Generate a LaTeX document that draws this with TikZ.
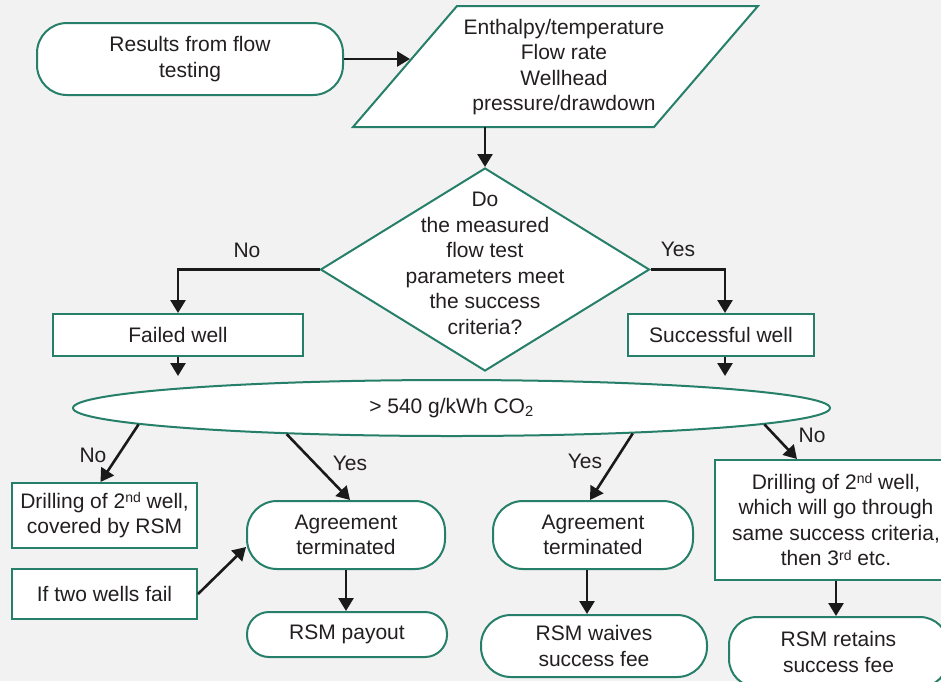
\documentclass[tikz,border=0pt]{standalone}
\usepackage{fontspec}
\setmainfont{Liberation Sans}
\usetikzlibrary{shapes.geometric,arrows.meta,calc}
\definecolor{bg}{HTML}{F2F2F2}
\definecolor{grn}{RGB}{38,127,104}
\definecolor{ink}{HTML}{231F20}
\definecolor{arrk}{HTML}{1A1A1A}
\newcommand\mysup[1]{\raisebox{5.5pt}{\fontsize{14}{14}\selectfont #1}}
\begin{document}
\begin{tikzpicture}[x=1pt,y=-1pt,
  every node/.style={font=\fontsize{21}{25.5}\selectfont, text=ink, inner sep=0pt, align=center},
  box/.style={draw=grn, line width=2pt, fill=white, rectangle},
  term/.style={box, rounded corners=30pt},
  arr/.style={draw=arrk, line width=2.6pt, -{Triangle[length=13pt,width=15pt]}}]
\fill[bg, use as bounding box] (0,0) rectangle (941,681);
\clip (0,0) rectangle (941,681);

% start
\node[term, minimum width=306pt, minimum height=72pt] (res) at (190,59) {Results from flow\\testing};

% parallelogram
\coordinate (ptl) at (457,6);
\coordinate (ptr) at (758,6);
\coordinate (pbr) at (654,127);
\coordinate (pbl) at (353,127);
\coordinate (pin) at (410,59);
\draw[draw=grn, line width=2pt, fill=white] (ptl) -- (ptr) -- (pbr) -- (pbl) -- cycle;
\node (par) at (564,67) {Enthalpy/temperature\\Flow rate\\Wellhead\\pressure/drawdown};
\draw[arr] (res.east) -- (pin);

% diamond
\node[diamond, draw=grn, line width=2pt, fill=white, minimum width=329pt, minimum height=203pt] (dia) at (485,269.5) {};
\node (diat) at (485,263.5) {Do\\the measured\\flow test\\parameters meet\\the success\\criteria?};
\draw[arr] (dia.north |- pbl) -- (dia.north);

% failed / successful
\node[box, minimum width=250pt, minimum height=42pt] (fail) at (178,335) {Failed well};
\node[box, minimum width=186pt, minimum height=42pt] (succ) at (721,335) {Successful well};
\coordinate (sn) at ([xshift=4pt]succ.north);
\coordinate (ss) at ([xshift=4pt]succ.south);
\draw[arr] (dia.west) -| (fail.north);
\draw[arr] (dia.east) -| (sn);
\node (no1) at (247,250) {No};
\node (yes1) at (678,249) {Yes};

% ellipse
\node[ellipse, draw=grn, line width=2pt, fill=white, minimum width=757pt, minimum height=56pt] (ell) at (451.5,408) {> 540 g/kWh CO\textsubscript{2}};
\draw[arr, shorten >=3pt] (fail.south) -- (fail.south |- ell.north);
\draw[arr, shorten >=3pt] (ss) -- (ss |- ell.north);

% lower nodes
\node[box, minimum width=185pt, minimum height=65pt] (dr1) at (104.5,515.5) {Drilling of 2\mysup{nd} well,\\covered by RSM};
\node[box, minimum width=185pt, minimum height=50pt] (two) at (104.5,594) {If two wells fail};
\node[term, minimum width=198pt, minimum height=68pt] (ag1) at (346,535) {Agreement\\terminated};
\node[term, minimum width=200pt, minimum height=45pt, rounded corners=22pt] (pay) at (347,634.5) {RSM payout};
\node[term, minimum width=200pt, minimum height=68pt] (ag2) at (593,535) {Agreement\\terminated};
\node[term, minimum width=226pt, minimum height=62pt] (waive) at (594,646) {RSM waives\\success fee};
\node[box, minimum width=242pt, minimum height=120pt] (dr2) at (836,520) {Drilling of 2\mysup{nd} well,\\which will go through\\same success criteria,\\then 3\mysup{rd} etc.};
\node[term, minimum width=219pt, minimum height=70pt, rounded corners=28pt] (ret) at (838.5,652) {RSM retains\\success fee};

% branches from ellipse
\draw[arr] (ell.183.3) -- ([xshift=-4pt]dr1.north);
\draw[arr] (ell.189.9) -- ([xshift=4pt]ag1.north);
\draw[arr] (ell.352.3) -- ([xshift=-3pt]ag2.north);
\draw[arr] (ell.357) -- ([xshift=-39pt]dr2.north);
\node (no2) at (93,455) {No};
\node (yes2) at (350,463) {Yes};
\node (yes3) at (585,461) {Yes};
\node (no3) at (812,435) {No};

% lower arrows
\draw[arr] (two.east) -- ([yshift=-12pt]ag1.west);
\draw[arr] (ag1.south) -- (ag1.south |- pay.north);
\coordinate (a2) at ([xshift=-6pt]ag2.south);
\draw[arr] (a2) -- (a2 |- waive.north);
\draw[arr] (dr2.south) -- (dr2.south |- ret.north);
\end{tikzpicture}
\end{document}
